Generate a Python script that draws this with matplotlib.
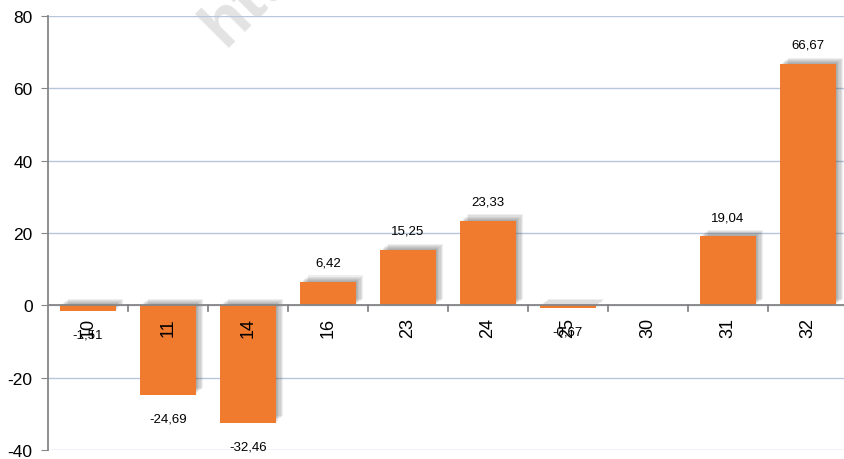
import numpy as np
import matplotlib
matplotlib.use("Agg")
import matplotlib.pyplot as plt
import matplotlib.patheffects as pe

# Datos del grafico
categorias = ["10", "11", "14", "16", "23", "24", "25", "30", "31", "32"]
valores = [-1.51, -24.69, -32.46, 6.42, 15.25, 23.33, -0.67, np.nan, 19.04, 66.67]
y_ticks = [-40, -20, 0, 20, 40, 60, 80]

plt.rcParams['font.family'] = ['Liberation Sans', 'DejaVu Sans']

fig = plt.figure(figsize=(8.45, 4.6), dpi=100)
ax = fig.add_axes([48 / 845, 9 / 460, 800 / 845, 434 / 460])

x = np.arange(len(categorias))
alturas = np.nan_to_num(valores)

# sombra difusa (arriba y a la derecha)
sombra = []
for d in [6, 5, 4, 3, 2, 1]:
    sombra.append(pe.SimplePatchShadow(offset=(d * 0.9, d * 0.8), shadow_rgbFace='#444444', alpha=0.09))
sombra.append(pe.Normal())

barras = ax.bar(x, alturas, width=0.69, color='#F07A2E', zorder=3)
for b in barras:
    b.set_path_effects(sombra)

# etiquetas de datos
for xi, v in zip(x, valores):
    if np.isnan(v):
        continue
    texto = f"{v:.2f}".replace(".", ",")
    if v >= 0:
        ax.annotate(texto, (xi, v), xytext=(0, 14), textcoords='offset points',
                    ha='center', va='center', fontsize=9.5, zorder=5)
    else:
        ax.annotate(texto, (xi, v), xytext=(0, -17), textcoords='offset points',
                    ha='center', va='center', fontsize=9.5, zorder=5)

# nombres de categorias bajo la linea de cero
for xi, c in zip(x, categorias):
    ax.text(xi, -3.3, c, rotation=90, ha='center', va='top', fontsize=13, zorder=4)

ax.set_xlim(-0.5, len(categorias) - 0.5)
ax.set_ylim(-40, 80)
ax.set_yticks(y_ticks)
ax.set_yticklabels([str(t) for t in y_ticks], fontsize=12.5)
ax.set_xticks([])
ax.yaxis.grid(True, color='#B7C6DB', linewidth=1)
ax.set_axisbelow(True)

for s in ['top', 'right', 'bottom']:
    ax.spines[s].set_visible(False)
ax.spines['left'].set_color('#868686')
ax.spines['left'].set_linewidth(1.3)
ax.tick_params(axis='y', length=5, color='#868686', pad=6)

# linea de cero con marcas entre categorias
ax.axhline(0, color='#868686', linewidth=1.3, zorder=4)
for xb in np.arange(0.5, len(categorias) - 0.5, 1):
    ax.plot([xb, xb], [0, -1.5], color='#868686', linewidth=1.3, zorder=4, clip_on=False)

# marca de agua (bajo la cuadricula)
ax.text(224 / 845, 1 - 48 / 460, "http", transform=fig.transFigure, rotation=45,
        rotation_mode='anchor', ha='left', va='baseline', fontsize=48,
        fontweight='bold', color='#E3E3E3', zorder=0.2, clip_on=False)

fig.savefig("out.png", dpi=100)
